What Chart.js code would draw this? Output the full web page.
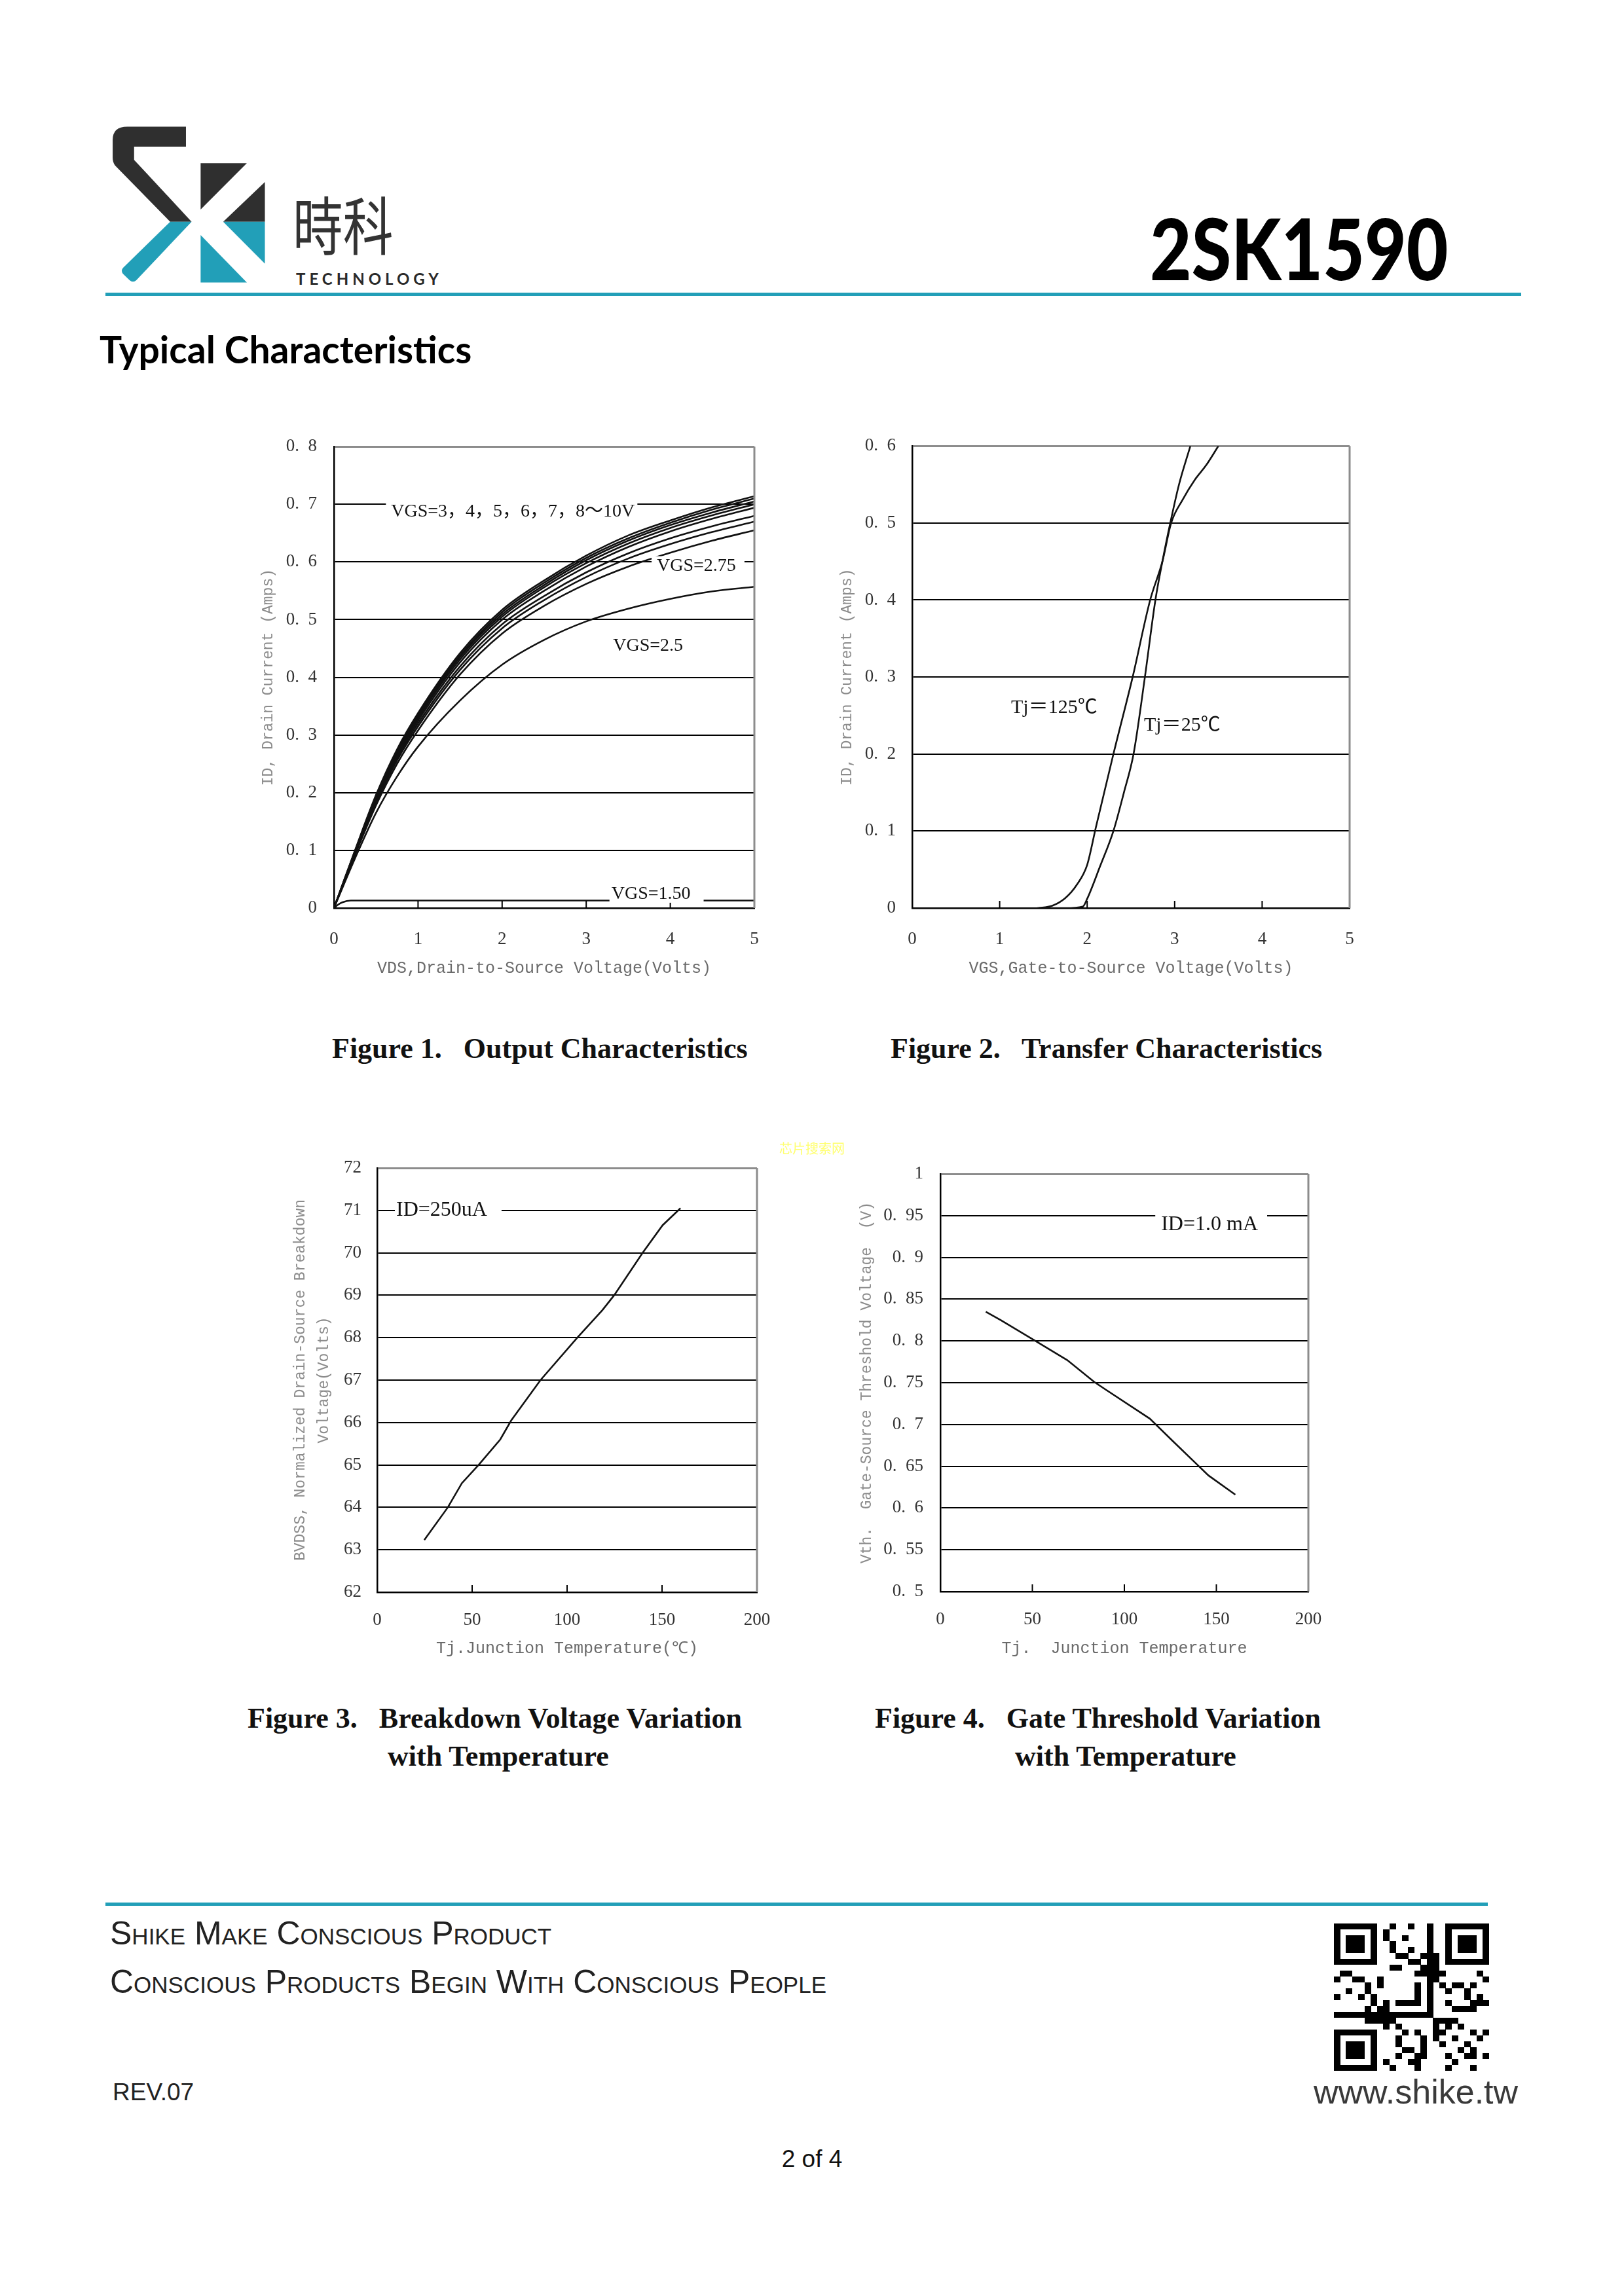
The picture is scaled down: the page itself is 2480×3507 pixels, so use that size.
<!DOCTYPE html>
<html>
<head>
<meta charset="utf-8">
<script src="https://cdn.jsdelivr.net/npm/chart.js"></script>
<style>
  html, body { margin: 0; padding: 0; background: #fff; }
  #page { position: relative; width: 2480px; height: 3507px; background: #fff; overflow: hidden; }
  .t { position: absolute; white-space: pre; line-height: 1; }
  canvas { position: absolute; }
  .cap { font-family: "Liberation Serif", serif; font-weight: bold; font-size: 44px; color: #111; }
  .foot { font-family: "Liberation Sans", sans-serif; font-variant: small-caps; font-size: 50px; color: #222; }
</style>
</head>
<body>
<div id="page">
  <!-- logo -->
  <svg style="position:absolute;left:160px;top:180px" width="540" height="270" viewBox="0 0 1568 800" preserveAspectRatio="none">
    <path d="M360 40 L360 130 L130 130 L130 190 L385 470 L290 470 L45 215 Q35 200 35 180 L35 100 Q35 40 100 40 Z" fill="#2f2f2f"/>
    <path d="M290 470 L385 470 L140 735 Q125 748 110 735 L80 705 Q70 690 82 678 Z" fill="#229fb8"/>
    <path d="M425 205 L630 205 L425 415 Z" fill="#2f2f2f"/>
    <path d="M710 290 L710 470 L525 470 Z" fill="#2f2f2f"/>
    <path d="M525 470 L710 470 L710 660 Z" fill="#229fb8"/>
    <path d="M425 530 L630 745 L425 745 Z" fill="#229fb8"/>
  </svg>
  <div class="t" style="left:447px;top:292px;font-family:'Noto Sans CJK TC';font-size:96px;color:#333;transform:scaleX(0.8);transform-origin:left top;">時科</div>
  <div class="t" style="left:452px;top:414px;font-family:Lato;font-weight:bold;font-size:24px;letter-spacing:6px;color:#2a2a2a;">TECHNOLOGY</div>
  <div class="t" style="left:1756px;top:313px;font-family:Lato;font-weight:900;font-size:130px;color:#000;transform:scaleX(0.845);transform-origin:left top;">2SK1590</div>
  <div style="position:absolute;left:161px;top:447px;width:2162px;height:5px;background:#229fb8;"></div>
  <div class="t" style="left:152px;top:505px;font-family:Lato;font-weight:bold;font-size:57px;color:#000;">Typical Characteristics</div>

  <canvas id="fig1"></canvas>
  <canvas id="fig2"></canvas>
  <canvas id="fig3"></canvas>
  <canvas id="fig4"></canvas>

  <div class="t cap" style="left:507px;top:1580px;">Figure 1.   Output Characteristics</div>
  <div class="t cap" style="left:1360px;top:1580px;">Figure 2.   Transfer Characteristics</div>
  <div class="t cap" style="left:378px;top:2603px;">Figure 3.   Breakdown Voltage Variation</div>
  <div class="t cap" style="left:592px;top:2661px;">with Temperature</div>
  <div class="t cap" style="left:1336px;top:2603px;">Figure 4.   Gate Threshold Variation</div>
  <div class="t cap" style="left:1550px;top:2661px;">with Temperature</div>
  <div class="t" style="left:1190px;top:1744px;font-family:'Noto Sans CJK SC';font-size:20px;color:#ffff70;">芯片搜索网</div>

  <!-- footer -->
  <div style="position:absolute;left:161px;top:2906px;width:2111px;height:5px;background:#229fb8;"></div>
  <div class="t foot" style="left:168px;top:2928px;">Shike Make Conscious Product</div>
  <div class="t foot" style="left:168px;top:3002px;">Conscious Products Begin With Conscious People</div>
  <div class="t" style="left:172px;top:3177px;font-family:'Liberation Sans';font-size:37px;color:#222;">REV.07</div>
  <canvas id="qr" width="237" height="225" style="left:2037px;top:2938px;"></canvas>
  <div class="t" style="left:2006px;top:3169px;font-family:'Liberation Sans';font-size:52px;color:#3a3a3a;">www.shike.tw</div>
  <div class="t" style="left:1140px;top:3279px;width:200px;text-align:center;font-family:'Liberation Sans';font-size:37px;color:#111;">2 of 4</div>
</div>

<script>
// ---- Figure 1: output characteristics (ID vs VDS)
const vdsPoints = [0, 0.25, 0.5, 0.75, 1, 1.5, 2, 2.5, 3, 3.5, 4, 4.5, 5];
const idVgs10  = [0, 0.100, 0.196, 0.275, 0.338, 0.442, 0.517, 0.568, 0.611, 0.646, 0.672, 0.695, 0.714];
const idVgs8   = [0, 0.099, 0.194, 0.272, 0.335, 0.438, 0.513, 0.564, 0.607, 0.641, 0.668, 0.691, 0.710];
const idVgs7   = [0, 0.098, 0.192, 0.270, 0.332, 0.435, 0.509, 0.560, 0.603, 0.637, 0.664, 0.686, 0.705];
const idVgs6   = [0, 0.097, 0.190, 0.267, 0.329, 0.431, 0.505, 0.556, 0.598, 0.632, 0.659, 0.681, 0.700];
const idVgs5   = [0, 0.096, 0.188, 0.264, 0.325, 0.426, 0.500, 0.550, 0.592, 0.626, 0.653, 0.675, 0.694];
const idVgs4   = [0, 0.095, 0.185, 0.260, 0.320, 0.419, 0.492, 0.541, 0.582, 0.615, 0.641, 0.662, 0.680];
const idVgs3   = [0, 0.094, 0.182, 0.256, 0.315, 0.413, 0.485, 0.534, 0.574, 0.606, 0.631, 0.652, 0.670];
const idVgs275 = [0, 0.092, 0.178, 0.250, 0.308, 0.405, 0.476, 0.524, 0.562, 0.592, 0.616, 0.637, 0.655];
const idVgs25  = [0, 0.086, 0.165, 0.228, 0.280, 0.360, 0.422, 0.465, 0.497, 0.519, 0.536, 0.549, 0.557];
const vdsLowPoints = [0, 0.05, 0.1, 0.2, 0.5, 5];
const idVgs150 = [0, 0.006, 0.010, 0.013, 0.013, 0.013];
const fig1XLabels = ['0', '1', '2', '3', '4', '5'];
const fig1YLabels = ['0', '0.  1', '0.  2', '0.  3', '0.  4', '0.  5', '0.  6', '0.  7', '0.  8'];

// ---- Figure 2: transfer characteristics (ID vs VGS)
const vgsHot  = [1.43, 1.6, 1.75, 1.88, 2.0, 2.1, 2.3, 2.52, 2.72, 2.86, 2.96, 3.09, 3.23, 3.36, 3.5];
const idHot   = [0, 0.003, 0.013, 0.030, 0.056, 0.105, 0.2, 0.3, 0.4, 0.45, 0.5, 0.53, 0.556, 0.575, 0.6];
const vgsCold = [1.45, 1.75, 1.95, 2.0, 2.15, 2.3, 2.42, 2.53, 2.66, 2.78, 2.86, 2.95, 3.05, 3.18];
const idCold  = [0, 0, 0.002, 0.012, 0.055, 0.1, 0.15, 0.2, 0.3, 0.4, 0.45, 0.5, 0.55, 0.6];
const fig2XLabels = ['0', '1', '2', '3', '4', '5'];
const fig2YLabels = ['0', '0.  1', '0.  2', '0.  3', '0.  4', '0.  5', '0.  6'];

// ---- Figure 3: BVDSS vs Tj
const tjBreakdown = [24.8, 37.2, 44.6, 53.4, 64.8, 70.6, 86, 105.4, 118.6, 124.8, 139.8, 150.3, 159.7];
const bvdss       = [63.23, 64.0, 64.57, 65.0, 65.6, 66.05, 67.0, 68.0, 68.65, 69.0, 70.0, 70.65, 71.05];
const fig3XLabels = ['0', '50', '100', '150', '200'];
const fig3YLabels = ['62', '63', '64', '65', '66', '67', '68', '69', '70', '71', '72'];

// ---- Figure 4: Vth vs Tj
const tjThreshold = [24.7, 32.8, 50.9, 69, 83.6, 89.7, 113.8, 125.9, 140.5, 145.7, 160.3];
const vth         = [0.835, 0.825, 0.801, 0.777, 0.751, 0.742, 0.707, 0.681, 0.650, 0.639, 0.616];
const fig4XLabels = ['0', '50', '100', '150', '200'];
const fig4YLabels = ['0.  5', '0.  55', '0.  6', '0.  65', '0.  7', '0.  75', '0.  8', '0.  85', '0.  9', '0.  95', '1'];

// notes written inside the plots
const noteFont = '28px "Liberation Serif", "Noto Sans CJK SC"';
const bigNoteFont = '32px "Liberation Serif", "Noto Sans CJK SC"';
const fig1Notes = [
  { text: 'VGS=3，4，5，6，7，8～10V', x: 0.68, y: 0.687, font: noteFont, bg: [8, 17, 4, 14] },
  { text: 'VGS=2.75', x: 3.84, y: 0.593, font: noteFont, bg: [8, 15, 13, 14] },
  { text: 'VGS=2.5', x: 3.32, y: 0.455, font: noteFont },
  { text: 'VGS=1.50', x: 3.3, y: 0.024, font: noteFont, bg: [3, 15, 20, 13] },
];
const fig2Notes = [
  { text: 'Tj＝125℃', x: 1.13, y: 0.26, font: '30px "Liberation Serif", "Noto Sans CJK SC"' },
  { text: 'Tj＝25℃', x: 2.65, y: 0.237, font: '30px "Liberation Serif", "Noto Sans CJK SC"' },
];
const fig3Notes = [{ text: 'ID=250uA', x: 10, y: 71.0, font: bigNoteFont, bg: [2, 18, 22, 18] }];
const fig4Notes = [{ text: 'ID=1.0 mA', x: 120, y: 0.939, font: bigNoteFont, bg: [9, 20, 14, 16] }];

const toPoints = (xs, ys) => xs.map((v, i) => ({ x: v, y: ys[i] }));

// small upward ticks on the bottom axis and the grey right edge
const framePlugin = {
  id: 'frame',
  afterDatasetsDraw(chart) {
    const { ctx, chartArea: a, scales: { x } } = chart;
    ctx.save();
    ctx.strokeStyle = '#000';
    ctx.lineWidth = 2;
    x.ticks.forEach(t => {
      if (t.value <= x.min || t.value >= x.max) return;
      const px = x.getPixelForValue(t.value);
      ctx.beginPath();
      ctx.moveTo(px, a.bottom);
      ctx.lineTo(px, a.bottom - 11);
      ctx.stroke();
    });
    ctx.strokeStyle = '#8c8c8c';
    ctx.lineWidth = 3;
    ctx.beginPath();
    ctx.moveTo(a.right, a.top);
    ctx.lineTo(a.right, a.bottom);
    ctx.stroke();
    ctx.restore();
  }
};

const notesPlugin = {
  id: 'notes',
  afterDatasetsDraw(chart, args, opts) {
    const { ctx, scales: { x, y } } = chart;
    (opts.items || []).forEach(n => {
      ctx.save();
      ctx.font = n.font;
      const w = ctx.measureText(n.text).width;
      const px = x.getPixelForValue(n.x);
      const py = y.getPixelForValue(n.y);
      if (n.bg) {
        ctx.fillStyle = '#fff';
        ctx.fillRect(px - n.bg[0], py - n.bg[1], w + n.bg[0] + n.bg[2], n.bg[1] + n.bg[3]);
      }
      ctx.fillStyle = '#111';
      ctx.textAlign = 'left';
      ctx.textBaseline = 'middle';
      ctx.fillText(n.text, px, py);
      ctx.restore();
    });
  }
};

function buildChart(id, box, area, cfg) {
  const cv = document.getElementById(id);
  cv.width = box.w;
  cv.height = box.h;
  cv.style.left = box.x + 'px';
  cv.style.top = box.y + 'px';

  const tickFont = { family: 'Liberation Serif', size: 27 };
  const isTop = c => c.tick && Math.abs(c.tick.value - cfg.y.max) < 1e-9;

  return new Chart(cv, {
    type: 'scatter',
    data: {
      datasets: cfg.series.map(s => ({
        data: s.data,
        showLine: true,
        borderColor: '#111',
        borderWidth: 2.6,
        pointRadius: 0,
        cubicInterpolationMode: s.smooth ? 'monotone' : 'default',
        tension: s.smooth ? 0.4 : 0,
      }))
    },
    options: {
      responsive: false,
      animation: false,
      devicePixelRatio: 1,
      layout: { padding: { left: 0, top: area.t - box.y, right: box.x + box.w - area.r, bottom: 0 } },
      plugins: { legend: { display: false }, tooltip: { enabled: false }, notes: { items: cfg.notes } },
      scales: {
        x: {
          type: 'linear', min: cfg.x.min, max: cfg.x.max,
          afterFit: s => { s.height = box.y + box.h - area.b; },
          ticks: { stepSize: cfg.x.step, autoSkip: false, maxRotation: 0, padding: cfg.x.pad,
                   font: tickFont, color: '#333', callback: (v, i) => cfg.x.labels[i] },
          grid: { drawOnChartArea: false, drawTicks: false },
          border: { display: true, color: '#000', width: 2.5 },
          title: { display: true, text: cfg.x.title, color: '#6a6a6a',
                   font: { family: 'Liberation Mono', size: 25 }, padding: { top: 0, bottom: cfg.x.titlePad } }
        },
        y: {
          type: 'linear', min: cfg.y.min, max: cfg.y.max,
          afterFit: s => { s.width = area.l - box.x; },
          ticks: { stepSize: cfg.y.step, autoSkip: false, padding: cfg.y.pad,
                   font: tickFont, color: '#333', callback: (v, i) => cfg.y.labels[i] },
          grid: { drawTicks: false, color: c => isTop(c) ? '#8c8c8c' : '#000', lineWidth: c => isTop(c) ? 3 : 2 },
          border: { display: true, color: '#000', width: 2.5 },
          title: { display: true, text: cfg.y.title, color: '#8c8c8c',
                   font: { family: 'Liberation Mono', size: cfg.y.titleSize, lineHeight: cfg.y.titleLH },
                   padding: { top: cfg.y.titlePad, bottom: 0 } }
        }
      }
    },
    plugins: [framePlugin, notesPlugin]
  });
}

buildChart('fig1', { x: 380, y: 640, w: 830, h: 880 }, { l: 510, t: 679, r: 1152, b: 1387 }, {
  series: [idVgs10, idVgs8, idVgs7, idVgs6, idVgs5, idVgs4, idVgs3, idVgs275, idVgs25]
    .map(ys => ({ data: toPoints(vdsPoints, ys), smooth: true }))
    .concat([{ data: toPoints(vdsLowPoints, idVgs150), smooth: true }]),
  notes: fig1Notes,
  x: { min: 0, max: 5, step: 1, labels: fig1XLabels, pad: 32, title: 'VDS,Drain-to-Source Voltage(Volts)', titlePad: 26 },
  y: { min: 0, max: 0.8, step: 0.1, labels: fig1YLabels, pad: 26, title: 'ID, Drain Current (Amps)', titleSize: 23, titleLH: 1.2, titlePad: 16 }
});

buildChart('fig2', { x: 1260, y: 640, w: 860, h: 880 }, { l: 1393, t: 673, r: 2061, b: 1387 }, {
  series: [{ data: toPoints(vgsHot, idHot), smooth: true }, { data: toPoints(vgsCold, idCold), smooth: true }],
  notes: fig2Notes,
  x: { min: 0, max: 5, step: 1, labels: fig2XLabels, pad: 32, title: 'VGS,Gate-to-Source Voltage(Volts)', titlePad: 26 },
  y: { min: 0, max: 0.6, step: 0.1, labels: fig2YLabels, pad: 25, title: 'ID, Drain Current (Amps)', titleSize: 23, titleLH: 1.2, titlePad: 20 }
});

buildChart('fig3', { x: 420, y: 1740, w: 800, h: 820 }, { l: 576, t: 1784, r: 1156, b: 2432 }, {
  series: [{ data: toPoints(tjBreakdown, bvdss), smooth: false }],
  notes: fig3Notes,
  x: { min: 0, max: 200, step: 50, labels: fig3XLabels, pad: 27, title: 'Tj.Junction Temperature(℃)', titlePad: 27 },
  y: { min: 62, max: 72, step: 1, labels: fig3YLabels, pad: 24,
       title: ['BVDSS, Normalized Drain-Source Breakdown', 'Voltage(Volts)'], titleSize: 23, titleLH: 1.55, titlePad: 21 }
});

buildChart('fig4', { x: 1290, y: 1740, w: 760, h: 820 }, { l: 1436, t: 1793, r: 1998, b: 2431 }, {
  series: [{ data: toPoints(tjThreshold, vth), smooth: false }],
  notes: fig4Notes,
  x: { min: 0, max: 200, step: 50, labels: fig4XLabels, pad: 27, title: 'Tj.  Junction Temperature', titlePad: 27 },
  y: { min: 0.5, max: 1, step: 0.05, labels: fig4YLabels, pad: 26,
       title: 'Vth.  Gate-Source Threshold Voltage  (V)', titleSize: 23, titleLH: 1.2, titlePad: 20 }
});

// QR-like block in the footer (decorative)
(function drawQr() {
  const q = document.getElementById('qr').getContext('2d');
  const n = 25, mw = 237 / n, mh = 225 / n;
  const cell = (r, c) => q.fillRect(Math.floor(c * mw), Math.floor(r * mh), Math.ceil(mw), Math.ceil(mh));
  const inFinder = (r, c) => (r < 8 && c < 8) || (r < 8 && c >= n - 8) || (r >= n - 8 && c < 8);
  q.fillStyle = '#000';
  [[0, 0], [0, n - 7], [n - 7, 0]].forEach(([r0, c0]) => {
    for (let r = 0; r < 7; r++) for (let c = 0; c < 7; c++) {
      const ring = r === 0 || r === 6 || c === 0 || c === 6;
      const core = r >= 2 && r <= 4 && c >= 2 && c <= 4;
      if (ring || core) cell(r0 + r, c0 + c);
    }
  });
  for (let r = 0; r < n; r++) for (let c = 0; c < n; c++) {
    if (inFinder(r, c)) continue;
    if (((r * 7 + c * 13 + ((r * c) % 5) + (r ^ c)) % 3) === 0) cell(r, c);
  }
})();
</script>
</body>
</html>
